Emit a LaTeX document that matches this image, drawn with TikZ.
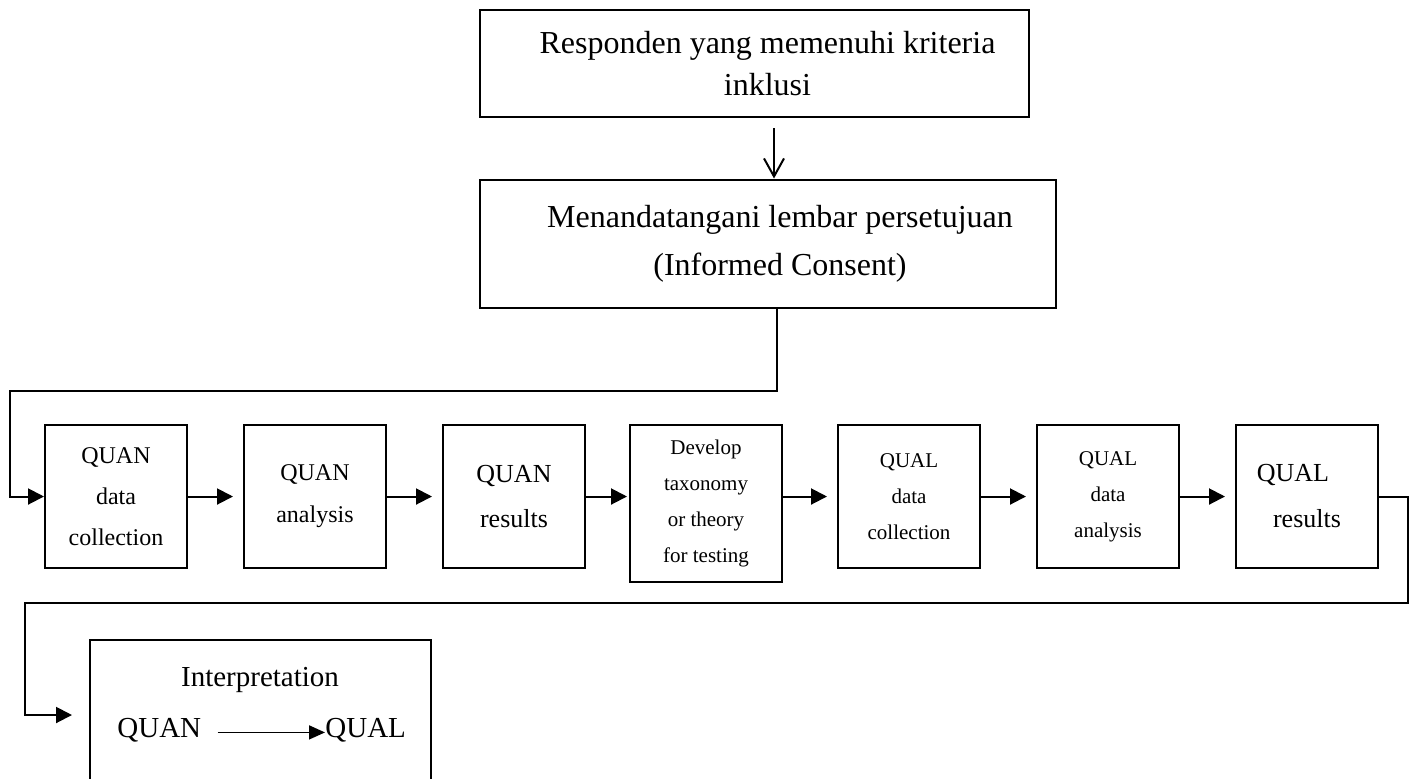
\documentclass[tikz,border=0pt]{standalone}
\usepackage{fontspec}
\setmainfont{Liberation Serif}
\usepackage{tikz}
\usetikzlibrary{arrows.meta,positioning,calc}
\newcommand{\fs}[2]{\fontsize{#1}{#2}\selectfont}
\newcommand{\indentline}[1]{\hspace*{#1}}

\begin{document}
\begin{tikzpicture}[x=0.5pt, y=-0.5pt]
\tikzstyle{stage}=[rectangle, draw=black, line width=1pt, align=center, inner sep=0pt, minimum width=71pt, minimum height=71.5pt]
\tikzstyle{wide}=[stage, minimum height=53.5pt]
\tikzstyle{plain}=[inner sep=0pt, font=\fs{14.5}{17}]
\tikzstyle{connect}=[-{Triangle[length=8pt, width=8pt]}, line width=1pt]
\tikzstyle{barb}=[-{Straight Barb[length=9pt, width=10pt]}, line width=1pt]
\tikzstyle{smallarrow}=[-{Triangle[length=8pt, width=7pt]}, line width=0.8pt]

  \clip (0,0) rectangle (1413,778);

  \node[wide, minimum width=274.5pt, font=\fs{16}{21}] (resp) at (754.5,63.5)
    {\indentline{13pt}Responden yang memenuhi kriteria\\\indentline{13pt}inklusi};
  \node[wide, minimum width=288pt, minimum height=64pt, font=\fs{16}{24}] (consent) at (768,243.5)
    {\indentline{12pt}Menandatangani lembar persetujuan\\\indentline{12pt}(Informed Consent)};

  \node[stage, font=\fs{12}{20.5}] (q1) at (116,496.5) {QUAN\\data\\collection};
  \node[stage, font=\fs{12}{21}]   (q2) [right=27.5pt of q1] {QUAN\\analysis};
  \node[stage, font=\fs{13}{22.5}] (q3) [right=27.5pt of q2] {QUAN\\results};
  \node[stage, font=\fs{10.5}{18}, minimum width=76pt, minimum height=78.5pt] (q4)
    [right=21.5pt of q3.north east, anchor=north west] {Develop\\taxonomy\\or theory\\for testing};
  \node[stage, font=\fs{10.5}{18}] (q5) [right=27pt of q4.north east, anchor=north west] {QUAL\\data\\collection};
  \node[stage, font=\fs{10.5}{18}] (q6) [right=27.5pt of q5] {QUAL\\data\\analysis};
  \node[stage, font=\fs{13}{23}]   (q7) [right=27.5pt of q6] {QUAL\indentline{14pt}\\results};

  \node[stage, anchor=north, minimum width=170.5pt, minimum height=100pt] (q8) at (260.5,639) {};
  \node[plain, anchor=base]      (interp) at (260,686) {Interpretation};
  \node[plain, anchor=base west] (quan)   at (117,737) {QUAN};
  \node[plain, anchor=base west] (qual)   at (325,737) {QUAL};

  \coordinate (turnA) at (10,391);
  \coordinate (turnB) at (1408,603);
  \coordinate (turnC) at (25,715);

  \draw[barb, shorten <=5pt] ([xshift=9.75pt]resp.south) -- ([xshift=9.75pt]resp.south |- consent.north);
  \draw[connect] ([xshift=4.5pt]consent.south) |- (turnA) |- (q1.west);

  \path (q1) edge [connect, shorten >=5pt] (q2);
  \path (q2) edge [connect, shorten >=5pt] (q3);
  \draw[connect, shorten >=1pt] (q3.east) -- (q3.east -| q4.west);
  \draw[connect, shorten >=5pt] (q4.east |- q5.west) -- (q5.west);
  \path (q5) edge [connect, shorten >=5pt] (q6);
  \path (q6) edge [connect, shorten >=5pt] (q7);

  \draw[connect, shorten >=8.5pt] (q7.east) -| (turnB) -| (turnC) -- (turnC -| q8.west);
  \draw[smallarrow] ([xshift=8pt]quan.mid east) -- (qual.mid west);

\end{tikzpicture}
\end{document}
